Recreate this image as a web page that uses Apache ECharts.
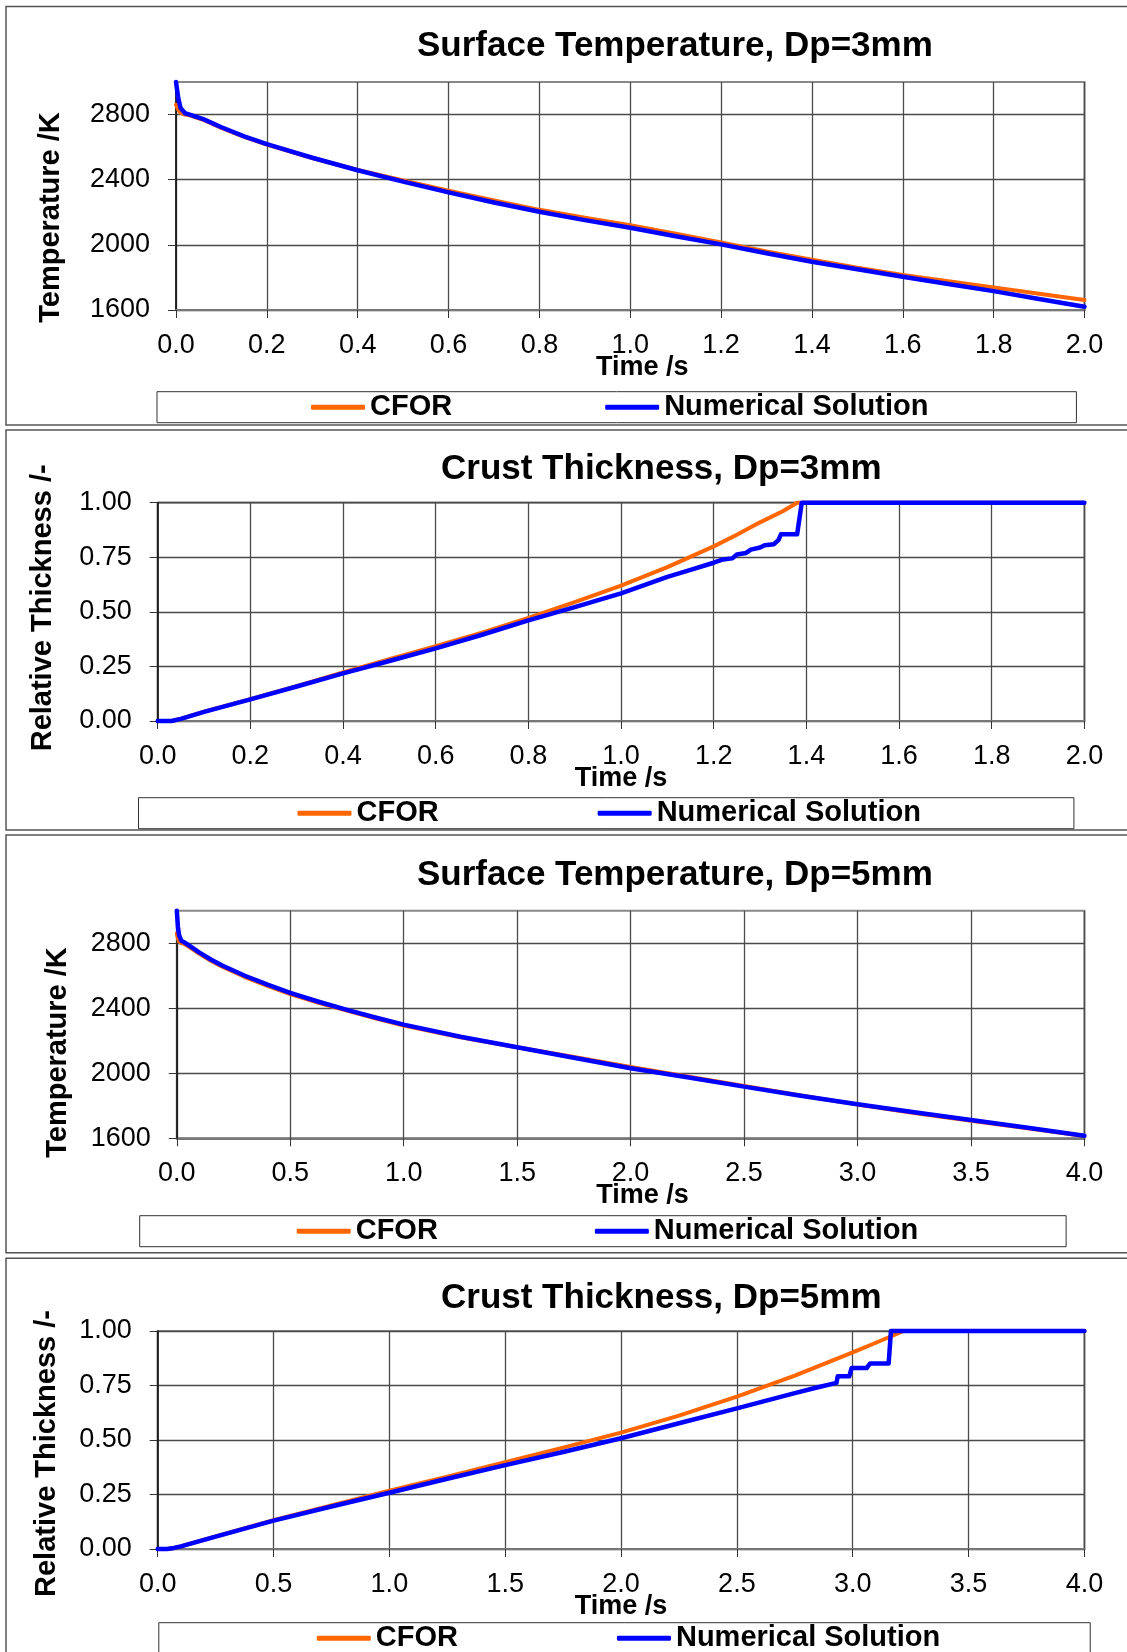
<!DOCTYPE html>
<html>
<head>
<meta charset="utf-8">
<script src="https://cdn.jsdelivr.net/npm/echarts@6/dist/echarts.min.js"></script>
<style>
html,body{margin:0;padding:0;background:#fff;}
#c{width:1127px;height:1652px;}
</style>
</head>
<body>
<div id="c"></div>
<script>
// ---------- Data ----------
// Panel 1: Surface Temperature, Dp=3mm
var t1 = [0, 0.005, 0.01, 0.02, 0.03, 0.06, 0.1, 0.15, 0.2, 0.3, 0.4, 0.5, 0.6, 0.7, 0.8, 0.9, 1.0, 1.1, 1.2, 1.3, 1.4, 1.5, 1.6, 1.7, 1.8, 1.9, 2.0];
var temp3Cfor = [2860, 2830, 2810, 2800, 2795, 2768, 2718, 2663, 2615, 2533, 2460, 2395, 2332, 2272, 2215, 2166, 2121, 2068, 2015, 1960, 1908, 1860, 1815, 1776, 1739, 1700, 1661];
var temp3Num  = [3000, 2900, 2840, 2808, 2800, 2772, 2722, 2666, 2618, 2535, 2458, 2388, 2322, 2260, 2203, 2152, 2105, 2053, 2003, 1948, 1896, 1850, 1804, 1760, 1716, 1668, 1620];

// Panel 2: Crust Thickness, Dp=3mm
var t2Cfor = [0, 0.03, 0.05, 0.1, 0.2, 0.3, 0.4, 0.5, 0.6, 0.7, 0.8, 0.9, 1.0, 1.1, 1.2, 1.25, 1.3, 1.35, 1.38, 2.0];
var crust3Cfor = [0, 0, 0.01, 0.043, 0.1, 0.16, 0.222, 0.283, 0.343, 0.405, 0.472, 0.545, 0.62, 0.705, 0.8, 0.853, 0.91, 0.962, 1.0, 1.0];
var t2Num = [0, 0.03, 0.05, 0.1, 0.2, 0.3, 0.4, 0.5, 0.6, 0.7, 0.8, 0.9, 1.0, 1.05, 1.1, 1.15, 1.2, 1.22, 1.24, 1.25, 1.27, 1.28, 1.3, 1.31, 1.33, 1.34, 1.345, 1.38, 1.39, 1.4, 2.0];
var crust3Num = [0, 0, 0.01, 0.042, 0.099, 0.158, 0.218, 0.275, 0.333, 0.395, 0.461, 0.522, 0.585, 0.622, 0.66, 0.692, 0.725, 0.74, 0.745, 0.763, 0.77, 0.785, 0.795, 0.805, 0.81, 0.83, 0.855, 0.855, 1.0, 1.0, 1.0];

// Panel 3: Surface Temperature, Dp=5mm
var t3 = [0, 0.005, 0.01, 0.02, 0.03, 0.06, 0.1, 0.15, 0.2, 0.3, 0.4, 0.5, 0.625, 0.75, 0.875, 1.0, 1.25, 1.5, 1.75, 2.0, 2.25, 2.5, 2.75, 3.0, 3.25, 3.5, 3.75, 4.0];
var temp5Cfor = [2860, 2830, 2810, 2800, 2798, 2772, 2735, 2692, 2655, 2592, 2538, 2487, 2434, 2385, 2338, 2294, 2222, 2160, 2100, 2038, 1980, 1922, 1864, 1807, 1756, 1708, 1662, 1614];
var temp5Num  = [3000, 2900, 2850, 2815, 2808, 2780, 2742, 2700, 2663, 2600, 2545, 2494, 2440, 2390, 2343, 2299, 2225, 2160, 2096, 2031, 1975, 1918, 1862, 1809, 1760, 1713, 1665, 1616];

// Panel 4: Crust Thickness, Dp=5mm
var t4Cfor = [0, 0.04, 0.07, 0.1, 0.25, 0.5, 0.75, 1.0, 1.25, 1.5, 1.75, 2.0, 2.25, 2.5, 2.75, 3.0, 3.1, 3.22, 4.0];
var crust5Cfor = [0, 0, 0.005, 0.012, 0.058, 0.132, 0.2, 0.267, 0.332, 0.398, 0.465, 0.534, 0.612, 0.699, 0.795, 0.902, 0.946, 1.0, 1.0];
var t4Num = [0, 0.04, 0.07, 0.1, 0.25, 0.5, 0.75, 1.0, 1.25, 1.5, 1.75, 2.0, 2.25, 2.5, 2.75, 2.85, 2.93, 2.935, 2.985, 2.995, 3.06, 3.075, 3.155, 3.165, 3.5, 4.0];
var crust5Num = [0, 0, 0.005, 0.012, 0.057, 0.13, 0.195, 0.258, 0.322, 0.385, 0.445, 0.508, 0.577, 0.645, 0.715, 0.742, 0.762, 0.792, 0.792, 0.83, 0.83, 0.851, 0.851, 1.0, 1.0, 1.0];

// Titles, names, ticks
var titles = ['Surface Temperature, Dp=3mm', 'Crust Thickness, Dp=3mm', 'Surface Temperature, Dp=5mm', 'Crust Thickness, Dp=5mm'];
var seriesNames = ['CFOR', 'Numerical Solution'];
var xName = 'Time /s';
var yNames = ['Temperature /K', 'Relative Thickness /-', 'Temperature /K', 'Relative Thickness /-'];
var tempTicks = [1600, 2000, 2400, 2800];

// ---------- Layout ----------
var FONT = "'Liberation Sans', Arial, sans-serif";
var grids = [
  {left: 176, top: 82, width: 908.5, height: 228},
  {left: 157.7, top: 502.7, width: 926.7, height: 218.3},
  {left: 176.8, top: 910.7, width: 907.6, height: 227.6},
  {left: 157.7, top: 1331, width: 926.7, height: 218}
];
var titlePos = [[417, 28.5], [441, 452], [417, 858], [441, 1281]];
var legendPos = [
  {left: 157, top: 391.7, padding: [0, 148, 0, 154], gap: 153},
  {left: 138.5, top: 797.7, padding: [0, 153, 0, 159], gap: 159},
  {left: 139.7, top: 1215.7, padding: [0, 148, 0, 157], gap: 157},
  {left: 158.8, top: 1622.7, padding: [0, 150, 0, 158], gap: 159}
];
var yNameGap = [110.5, 100.4, 104, 95.8];
var yNamePad = [[0, 43, 0, 0], [0, 0, 0, 8], [0, 56, 0, 0], [0, 27, 0, 0]];
var xNamePad = [[0, 0, 0, 24], [0, 0, 0, 0], [0, 0, 0, 24], [0, 0, 0, 0]];
var panels = [[6, 6.5, 425], [6, 430, 830], [6, 835, 1252.7], [6, 1258.3, 1700]];

function pairs(xs, ys) { return xs.map(function (x, i) { return [x, ys[i]]; }); }

var chart = echarts.init(document.getElementById('c'), null, {renderer: 'canvas'});

var option = {
  backgroundColor: '#fff',
  animation: false,
  textStyle: {fontFamily: FONT},
  title: titles.map(function (t, i) {
    return {text: t, left: titlePos[i][0], top: titlePos[i][1], padding: 0,
      textStyle: {fontFamily: FONT, fontSize: 35, fontWeight: 'bold', color: '#000'}};
  }),
  legend: legendPos.map(function (l) {
    return {data: seriesNames, left: l.left, top: l.top, padding: l.padding, itemGap: l.gap,
      itemWidth: 54, itemHeight: 5, icon: 'roundRect', borderColor: '#333', borderWidth: 1,
      selectedMode: false,
      textStyle: {fontFamily: FONT, fontSize: 29, fontWeight: 'bold', color: '#000', lineHeight: 28, padding: [3, 0, 0, 0]}};
  }),
  grid: grids.map(function (g) {
    return {left: g.left, top: g.top, width: g.width, height: g.height, show: true,
      borderColor: '#888', borderWidth: 2, backgroundColor: '#fff', containLabel: false};
  }),
  xAxis: [0, 1, 2, 3].map(function (i) {
    var maxX = (i < 2) ? 2 : 4;
    return {type: 'value', gridIndex: i, min: 0, max: maxX, interval: (i < 2) ? 0.2 : 0.5,
      name: xName, nameLocation: 'middle', nameGap: 44, nameMoveOverlap: false,
      nameTextStyle: {fontFamily: FONT, fontSize: 27, fontWeight: 'bold', color: '#000', padding: xNamePad[i]},
      axisLine: {show: true, onZero: false, lineStyle: {color: '#777', width: 2}},
      axisTick: {show: true, inside: false, length: 8, lineStyle: {color: '#333', width: 1}},
      axisLabel: {fontFamily: FONT, fontSize: 27, color: '#000', margin: 22,
        formatter: function (v) { return v.toFixed(1); }},
      splitLine: {show: true, lineStyle: {color: '#4a4a4a', width: 1.3}}
    };
  }),
  yAxis: [0, 1, 2, 3].map(function (i) {
    var isTemp = (i % 2 === 0);
    var ax = {type: 'value', gridIndex: i,
      name: yNames[i], nameLocation: 'middle', nameGap: yNameGap[i], nameRotate: 90, nameMoveOverlap: false,
      nameTextStyle: {fontFamily: FONT, fontSize: 29, fontWeight: 'bold', color: '#000', padding: yNamePad[i]},
      axisLine: {show: true, onZero: false, lineStyle: {color: '#111', width: 1.5}},
      axisTick: {show: true, inside: false, length: 8, lineStyle: {color: '#333', width: 1}},
      axisLabel: {fontFamily: FONT, fontSize: 27, color: '#000', margin: 26},
      splitLine: {show: true, lineStyle: {color: '#4a4a4a', width: 1.3}}
    };
    if (isTemp) {
      ax.min = 1600; ax.max = 3000; ax.interval = 400;
      ax.axisLabel.customValues = tempTicks;
      ax.axisTick.customValues = tempTicks;
      ax.axisLabel.formatter = function (v) { return String(v); };
    } else {
      ax.min = 0; ax.max = 1; ax.interval = 0.25;
      ax.axisLabel.formatter = function (v) { return v.toFixed(2); };
    }
    return ax;
  }),
  series: [
    {name: 'CFOR', type: 'line', xAxisIndex: 0, yAxisIndex: 0, data: pairs(t1, temp3Cfor)},
    {name: 'Numerical Solution', type: 'line', xAxisIndex: 0, yAxisIndex: 0, data: pairs(t1, temp3Num)},
    {name: 'CFOR', type: 'line', xAxisIndex: 1, yAxisIndex: 1, data: pairs(t2Cfor, crust3Cfor)},
    {name: 'Numerical Solution', type: 'line', xAxisIndex: 1, yAxisIndex: 1, data: pairs(t2Num, crust3Num)},
    {name: 'CFOR', type: 'line', xAxisIndex: 2, yAxisIndex: 2, data: pairs(t3, temp5Cfor)},
    {name: 'Numerical Solution', type: 'line', xAxisIndex: 2, yAxisIndex: 2, data: pairs(t3, temp5Num)},
    {name: 'CFOR', type: 'line', xAxisIndex: 3, yAxisIndex: 3, data: pairs(t4Cfor, crust5Cfor)},
    {name: 'Numerical Solution', type: 'line', xAxisIndex: 3, yAxisIndex: 3, data: pairs(t4Num, crust5Num)}
  ].map(function (s) {
    var blue = s.name !== 'CFOR';
    s.showSymbol = false; s.symbol = 'none'; s.smooth = false;
    s.clip = false;
    s.color = blue ? '#0000FF' : '#FF6600';
    s.lineStyle = {color: s.color, width: blue ? 4.5 : 4, cap: 'round', join: 'round'};
    s.z = blue ? 4 : 3;
    return s;
  }),
  graphic: panels.map(function (p) {
    return {type: 'rect', silent: true, z: -10,
      shape: {x: p[0], y: p[1], width: 1200, height: p[2] - p[1]},
      style: {fill: 'none', stroke: '#555', lineWidth: 1.5}};
  })
};
chart.setOption(option);
</script>
</body>
</html>
